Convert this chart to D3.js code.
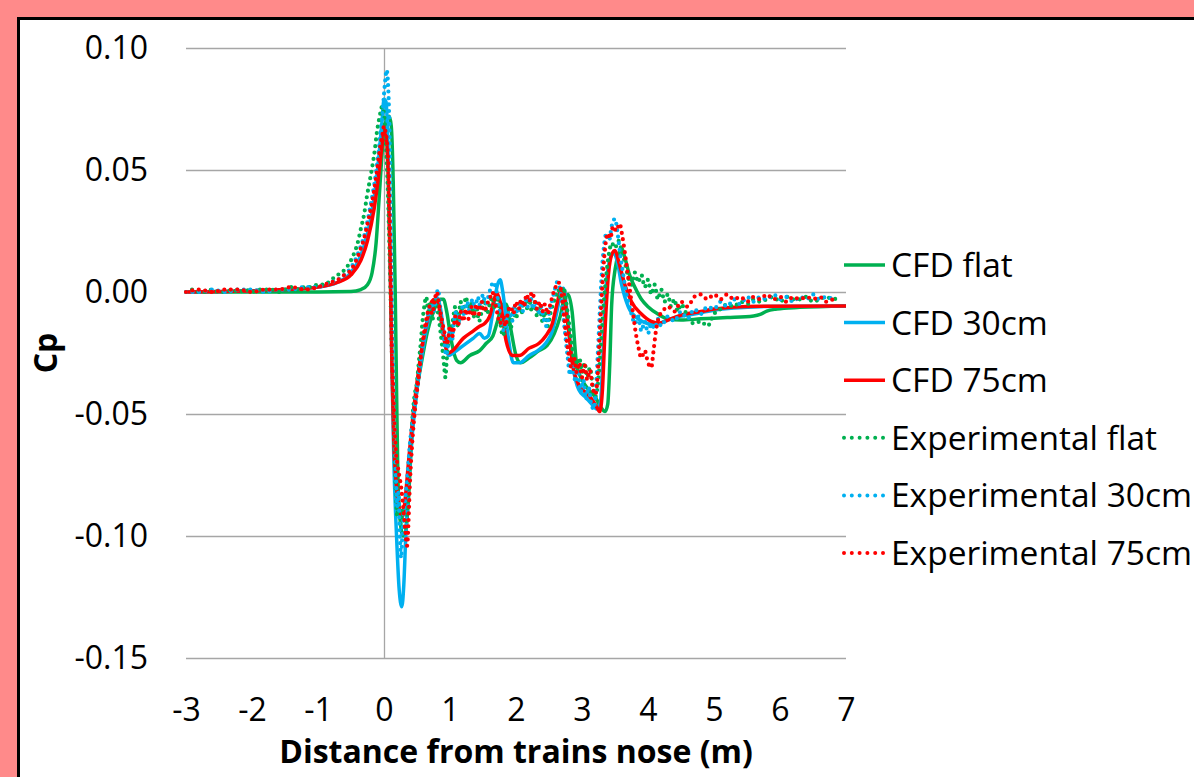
<!DOCTYPE html>
<html><head><meta charset="utf-8">
<script src="https://cdn.jsdelivr.net/npm/d3@7"></script>
<style>
html,body{margin:0;padding:0;background:#FF8A8A;}
svg{display:block;}
text{font-family:"Open Sans",sans-serif;}
</style></head>
<body>
<svg id="chart" width="1194" height="777"></svg>
<script>
// ---- data (x: distance from train nose in m, y: Cp) ----
const xTicks = [-3,-2,-1,0,1,2,3,4,5,6,7];
const yTicks = [0.10,0.05,0.00,-0.05,-0.10,-0.15];
const seriesNames = ["CFD flat","CFD 30cm","CFD 75cm","Experimental flat","Experimental 30cm","Experimental 75cm"];
const seriesColors = ["#00B050","#00B0F0","#FF0000","#00B050","#00B0F0","#FF0000"];

const cfdFlat = [[-3,0],[-1,0],[-0.5,0.0002],[-0.35,0.001],[-0.25,0.003],[-0.18,0.008],[-0.12,0.02],[-0.07,0.04],[-0.02,0.06],[0.03,0.07],[0.08,0.072],[0.11,0.068],[0.14,0.045],[0.17,0.0],[0.19,-0.04],[0.21,-0.075],[0.24,-0.092],[0.29,-0.1],[0.33,-0.098],[0.37,-0.085],[0.42,-0.06],[0.5,-0.04],[0.58,-0.027],[0.66,-0.016],[0.75,-0.008],[0.85,-0.003],[0.9,-0.003],[0.95,-0.008],[1.02,-0.02],[1.1,-0.028],[1.16,-0.029],[1.3,-0.026],[1.45,-0.024],[1.55,-0.021],[1.65,-0.018],[1.72,-0.012],[1.8,-0.005],[1.85,-0.005],[1.92,-0.015],[2.0,-0.026],[2.07,-0.029],[2.2,-0.027],[2.35,-0.024],[2.47,-0.022],[2.58,-0.017],[2.67,-0.01],[2.74,-0.002],[2.79,-0.001],[2.85,-0.008],[2.92,-0.03],[3.0,-0.036],[3.1,-0.04],[3.2,-0.043],[3.28,-0.047],[3.35,-0.049],[3.39,-0.046],[3.42,-0.03],[3.45,-0.005],[3.5,0.009],[3.56,0.016],[3.6,0.018],[3.65,0.014],[3.72,0.007],[3.8,0.002],[3.9,-0.003],[4.0,-0.006],[4.15,-0.009],[4.3,-0.011],[4.5,-0.0115],[4.8,-0.011],[5.2,-0.0105],[5.6,-0.0098],[5.7,-0.0092],[5.8,-0.0078],[5.95,-0.007],[6.3,-0.0063],[7.0,-0.0057]];

const cfd30 = [[-3,0],[-2,0.0005],[-1.5,0.001],[-1,0.002],[-0.7,0.004],[-0.5,0.008],[-0.35,0.015],[-0.25,0.024],[-0.15,0.038],[-0.08,0.055],[-0.03,0.07],[0.0,0.079],[0.03,0.078],[0.06,0.06],[0.09,0.02],[0.12,-0.03],[0.15,-0.07],[0.19,-0.1],[0.23,-0.122],[0.27,-0.129],[0.3,-0.12],[0.33,-0.1],[0.37,-0.08],[0.43,-0.058],[0.5,-0.04],[0.58,-0.025],[0.66,-0.013],[0.74,-0.005],[0.8,-0.002],[0.85,-0.006],[0.92,-0.019],[0.98,-0.026],[1.05,-0.025],[1.2,-0.022],[1.35,-0.019],[1.45,-0.017],[1.52,-0.019],[1.58,-0.018],[1.65,-0.008],[1.72,0.003],[1.76,0.005],[1.8,0.0],[1.88,-0.018],[1.96,-0.029],[2.05,-0.029],[2.2,-0.026],[2.33,-0.024],[2.45,-0.021],[2.55,-0.016],[2.62,-0.008],[2.68,0.0],[2.72,0.0015],[2.78,-0.01],[2.86,-0.03],[2.95,-0.04],[3.05,-0.043],[3.15,-0.046],[3.23,-0.048],[3.28,-0.045],[3.32,-0.025],[3.36,0.0],[3.42,0.013],[3.48,0.016],[3.53,0.013],[3.6,0.003],[3.7,-0.006],[3.85,-0.011],[4.0,-0.013],[4.1,-0.0135],[4.25,-0.012],[4.4,-0.0105],[4.7,-0.009],[5.0,-0.0075],[5.3,-0.0066],[5.7,-0.006],[7.0,-0.0057]];

const cfd75 = [[-3,0],[-2,0.0005],[-1.5,0.001],[-1,0.002],[-0.7,0.004],[-0.5,0.007],[-0.35,0.013],[-0.25,0.021],[-0.15,0.034],[-0.08,0.048],[-0.03,0.06],[0.0,0.065],[0.03,0.064],[0.06,0.05],[0.09,0.015],[0.12,-0.03],[0.15,-0.062],[0.19,-0.08],[0.24,-0.09],[0.28,-0.092],[0.32,-0.085],[0.37,-0.07],[0.43,-0.053],[0.5,-0.037],[0.58,-0.022],[0.66,-0.011],[0.72,-0.004],[0.77,-0.003],[0.83,-0.006],[0.9,-0.018],[0.97,-0.025],[1.04,-0.024],[1.2,-0.019],[1.35,-0.016],[1.45,-0.014],[1.52,-0.013],[1.6,-0.01],[1.67,-0.003],[1.71,-0.0005],[1.76,-0.004],[1.85,-0.02],[1.95,-0.026],[2.05,-0.026],[2.2,-0.023],[2.35,-0.021],[2.45,-0.018],[2.55,-0.013],[2.62,-0.005],[2.68,0.0005],[2.72,0.0],[2.78,-0.012],[2.86,-0.03],[2.95,-0.038],[3.05,-0.041],[3.15,-0.044],[3.22,-0.047],[3.27,-0.049],[3.31,-0.04],[3.35,-0.015],[3.4,0.007],[3.46,0.016],[3.5,0.017],[3.56,0.012],[3.65,0.003],[3.75,-0.004],[3.9,-0.009],[4.05,-0.012],[4.18,-0.0127],[4.3,-0.0115],[4.5,-0.0095],[4.8,-0.008],[5.0,-0.007],[5.3,-0.0062],[5.7,-0.0058],[7.0,-0.0057]];

const expFlat = [[-3.0,0.000],[-2.9,0.001],[-2.8,0.000],[-2.7,0.000],[-2.6,0.001],[-2.5,0.000],[-2.4,0.000],[-2.3,0.001],[-2.2,0.000],[-2.1,0.001],[-2.0,0.000],[-1.9,0.001],[-1.8,0.001],[-1.7,0.001],[-1.6,0.000],[-1.5,0.001],[-1.4,0.002],[-1.3,0.001],[-1.2,0.002],[-1.1,0.002],[-1.0,0.003],[-0.9,0.003],[-0.8,0.005],[-0.7,0.007],[-0.6,0.009],[-0.5,0.013],[-0.45,0.016],[-0.4,0.020],[-0.35,0.026],[-0.3,0.032],[-0.26,0.039],[-0.22,0.045],[-0.18,0.051],[-0.14,0.058],[-0.11,0.065],[-0.08,0.070],[-0.05,0.074],[-0.03,0.076],[0.0,0.073],[0.03,0.06],[0.06,0.04],[0.09,0.01],[0.12,-0.025],[0.14,-0.045],[0.16,-0.065],[0.18,-0.082],[0.2,-0.092],[0.22,-0.086],[0.25,-0.095],[0.28,-0.089],[0.31,-0.099],[0.34,-0.094],[0.37,-0.082],[0.4,-0.065],[0.43,-0.052],[0.46,-0.043],[0.5,-0.037],[0.53,-0.028],[0.56,-0.02],[0.58,-0.013],[0.61,-0.006],[0.64,-0.002],[0.67,-0.008],[0.7,-0.004],[0.73,-0.012],[0.76,-0.006],[0.79,-0.003],[0.82,-0.009],[0.85,-0.015],[0.88,-0.022],[0.91,-0.03],[0.93,-0.035],[0.95,-0.028],[0.98,-0.02],[1.01,-0.016],[1.04,-0.012],[1.08,-0.006],[1.12,-0.014],[1.16,-0.004],[1.2,-0.009],[1.24,-0.002],[1.28,-0.007],[1.32,-0.004],[1.36,-0.01],[1.4,-0.006],[1.44,-0.012],[1.48,-0.008],[1.52,-0.003],[1.56,-0.009],[1.6,-0.005],[1.64,-0.002],[1.68,-0.007],[1.72,-0.003],[1.76,-0.012],[1.8,-0.018],[1.84,-0.014],[1.88,-0.01],[1.92,-0.015],[1.96,-0.008],[2.0,-0.011],[2.04,-0.006],[2.08,-0.009],[2.12,-0.004],[2.16,-0.007],[2.2,-0.003],[2.24,-0.008],[2.28,-0.004],[2.32,-0.01],[2.36,-0.006],[2.4,-0.012],[2.44,-0.008],[2.48,-0.014],[2.52,-0.009],[2.56,-0.005],[2.6,-0.002],[2.64,0.001],[2.68,-0.003],[2.72,0.002],[2.76,-0.004],[2.8,-0.012],[2.84,-0.02],[2.88,-0.028],[2.92,-0.031],[2.96,-0.027],[3.0,-0.033],[3.04,-0.029],[3.08,-0.035],[3.12,-0.031],[3.16,-0.038],[3.2,-0.043],[3.23,-0.04],[3.26,-0.032],[3.29,-0.02],[3.32,-0.008],[3.35,0.002],[3.38,0.01],[3.41,0.016],[3.45,0.02],[3.5,0.018],[3.55,0.021],[3.6,0.017],[3.65,0.012],[3.7,0.006],[3.75,0.003],[3.8,0.008],[3.85,0.004],[3.9,0.007],[3.95,0.002],[4.0,0.005],[4.05,-0.001],[4.1,0.003],[4.15,-0.003],[4.2,0.001],[4.25,-0.004],[4.3,-0.001],[4.35,-0.006],[4.4,-0.003],[4.45,-0.008],[4.5,-0.005],[4.6,-0.01],[4.7,-0.013],[4.8,-0.012],[4.9,-0.014],[5.0,-0.009],[5.1,-0.007],[5.2,-0.005],[5.3,-0.006],[5.4,-0.004],[5.5,-0.005],[5.6,-0.003],[5.7,-0.004],[5.8,-0.003],[5.9,-0.002],[6.0,-0.004],[6.1,-0.002],[6.2,-0.003],[6.3,-0.003],[6.4,-0.002],[6.5,-0.004],[6.6,-0.003],[6.7,-0.002],[6.8,-0.003],[6.9,-0.002]];

const exp30 = [[-3.0,0.000],[-2.8,0.000],[-2.6,0.001],[-2.4,0.000],[-2.2,0.001],[-2.0,0.001],[-1.8,0.000],[-1.6,0.001],[-1.4,0.001],[-1.2,0.002],[-1.0,0.002],[-0.9,0.003],[-0.8,0.004],[-0.7,0.005],[-0.6,0.007],[-0.5,0.010],[-0.42,0.014],[-0.35,0.019],[-0.3,0.023],[-0.25,0.029],[-0.2,0.036],[-0.16,0.042],[-0.12,0.049],[-0.08,0.058],[-0.05,0.066],[-0.02,0.074],[0.0,0.081],[0.02,0.087],[0.04,0.091],[0.06,0.086],[0.08,0.07],[0.1,0.04],[0.12,0.0],[0.14,-0.03],[0.16,-0.055],[0.18,-0.075],[0.2,-0.088],[0.22,-0.082],[0.24,-0.1],[0.26,-0.109],[0.28,-0.098],[0.31,-0.088],[0.34,-0.08],[0.37,-0.07],[0.4,-0.06],[0.44,-0.052],[0.47,-0.045],[0.51,-0.037],[0.55,-0.029],[0.59,-0.021],[0.63,-0.014],[0.67,-0.009],[0.71,-0.005],[0.75,-0.008],[0.79,-0.002],[0.82,0.001],[0.85,-0.006],[0.88,-0.013],[0.91,-0.019],[0.94,-0.026],[0.97,-0.022],[1.0,-0.015],[1.03,-0.02],[1.06,-0.012],[1.1,-0.008],[1.14,-0.013],[1.18,-0.006],[1.22,-0.01],[1.26,-0.004],[1.3,-0.008],[1.34,-0.003],[1.38,-0.007],[1.42,-0.002],[1.46,-0.006],[1.5,-0.001],[1.54,-0.005],[1.58,-0.002],[1.62,0.002],[1.66,0.004],[1.7,0.001],[1.74,-0.006],[1.78,-0.012],[1.82,-0.016],[1.86,-0.011],[1.9,-0.008],[1.94,-0.012],[1.98,-0.006],[2.02,-0.009],[2.06,-0.004],[2.1,-0.008],[2.14,-0.003],[2.18,-0.006],[2.22,-0.002],[2.26,-0.007],[2.3,-0.004],[2.34,-0.009],[2.38,-0.006],[2.42,-0.011],[2.46,-0.014],[2.5,-0.009],[2.54,-0.004],[2.58,0.0],[2.62,0.004],[2.66,0.002],[2.7,-0.006],[2.74,-0.016],[2.78,-0.026],[2.82,-0.034],[2.86,-0.029],[2.9,-0.037],[2.94,-0.032],[2.98,-0.041],[3.02,-0.036],[3.06,-0.044],[3.1,-0.039],[3.14,-0.046],[3.18,-0.048],[3.21,-0.04],[3.24,-0.025],[3.27,-0.008],[3.3,0.008],[3.33,0.018],[3.37,0.024],[3.41,0.021],[3.45,0.027],[3.5,0.03],[3.54,0.024],[3.58,0.015],[3.62,0.008],[3.66,0.001],[3.7,-0.004],[3.75,-0.009],[3.8,-0.013],[3.85,-0.01],[3.9,-0.016],[3.95,-0.012],[4.0,-0.017],[4.05,-0.013],[4.1,-0.015],[4.15,-0.011],[4.2,-0.014],[4.3,-0.01],[4.4,-0.012],[4.5,-0.008],[4.6,-0.011],[4.7,-0.007],[4.8,-0.009],[4.9,-0.006],[5.0,-0.007],[5.1,-0.004],[5.2,-0.006],[5.3,-0.003],[5.4,-0.005],[5.5,-0.002],[5.6,-0.004],[5.7,-0.002],[5.8,-0.003],[5.9,-0.001],[6.0,-0.003],[6.1,-0.002],[6.2,-0.004],[6.3,-0.002],[6.4,-0.003],[6.5,-0.001],[6.6,-0.003],[6.7,-0.002],[6.8,-0.003]];

const exp75 = [[-3.0,0.0],[-2.8,0.001],[-2.6,0.0],[-2.4,0.001],[-2.2,0.001],[-2.0,0.0],[-1.8,0.001],[-1.6,0.001],[-1.4,0.002],[-1.2,0.001],[-1.0,0.002],[-0.9,0.003],[-0.8,0.004],[-0.7,0.005],[-0.6,0.007],[-0.5,0.009],[-0.42,0.013],[-0.35,0.018],[-0.3,0.022],[-0.25,0.028],[-0.2,0.034],[-0.16,0.04],[-0.12,0.047],[-0.08,0.055],[-0.05,0.061],[-0.02,0.065],[0.0,0.068],[0.02,0.066],[0.05,0.06],[0.08,0.04],[0.1,0.01],[0.12,-0.025],[0.14,-0.04],[0.16,-0.055],[0.18,-0.066],[0.2,-0.07],[0.23,-0.075],[0.26,-0.08],[0.29,-0.088],[0.32,-0.097],[0.35,-0.104],[0.37,-0.095],[0.39,-0.08],[0.42,-0.065],[0.45,-0.054],[0.49,-0.043],[0.53,-0.034],[0.57,-0.024],[0.61,-0.016],[0.65,-0.01],[0.69,-0.006],[0.73,-0.009],[0.77,-0.003],[0.8,0.0],[0.84,-0.006],[0.88,-0.012],[0.92,-0.017],[0.96,-0.021],[1.0,-0.014],[1.04,-0.018],[1.08,-0.01],[1.12,-0.014],[1.16,-0.008],[1.2,-0.012],[1.24,-0.007],[1.28,-0.011],[1.32,-0.006],[1.36,-0.01],[1.4,-0.005],[1.44,-0.009],[1.48,-0.004],[1.52,-0.008],[1.56,-0.005],[1.6,-0.003],[1.64,0.0],[1.68,-0.004],[1.72,-0.009],[1.76,-0.013],[1.8,-0.009],[1.84,-0.014],[1.88,-0.008],[1.92,-0.006],[1.96,-0.009],[2.0,-0.004],[2.04,-0.007],[2.08,-0.003],[2.12,-0.006],[2.16,-0.001],[2.2,-0.004],[2.24,0.0],[2.28,-0.003],[2.32,-0.007],[2.36,-0.004],[2.4,-0.008],[2.44,-0.005],[2.48,-0.009],[2.52,-0.005],[2.56,-0.001],[2.6,0.002],[2.64,0.004],[2.68,0.001],[2.72,-0.008],[2.76,-0.018],[2.8,-0.026],[2.84,-0.031],[2.88,-0.027],[2.92,-0.033],[2.96,-0.029],[3.0,-0.035],[3.04,-0.03],[3.08,-0.036],[3.12,-0.032],[3.16,-0.039],[3.2,-0.042],[3.23,-0.037],[3.26,-0.022],[3.29,-0.006],[3.32,0.008],[3.35,0.018],[3.39,0.024],[3.43,0.022],[3.47,0.027],[3.52,0.025],[3.57,0.028],[3.61,0.023],[3.65,0.016],[3.69,0.008],[3.73,0.0],[3.77,-0.008],[3.81,-0.016],[3.85,-0.022],[3.9,-0.027],[3.95,-0.024],[4.0,-0.029],[4.05,-0.031],[4.08,-0.025],[4.12,-0.016],[4.17,-0.01],[4.22,-0.008],[4.3,-0.006],[4.4,-0.008],[4.5,-0.004],[4.6,-0.006],[4.7,-0.002],[4.8,-0.001],[4.9,-0.003],[5.0,-0.001],[5.1,-0.003],[5.2,-0.001],[5.3,-0.003],[5.4,-0.002],[5.5,-0.004],[5.6,-0.002],[5.7,-0.003],[5.8,-0.001],[5.9,-0.003],[6.0,-0.002],[6.1,-0.004],[6.2,-0.002],[6.3,-0.003],[6.4,-0.002],[6.5,-0.003],[6.6,-0.002],[6.7,-0.004],[6.8,-0.003]];

const seriesData = [cfdFlat, cfd30, cfd75, expFlat, exp30, exp75];
const seriesDashed = [false,false,false,true,true,true];

// ---- drawing ----
const svg = d3.select("#chart");
const FONT = 32;
const LEGEND_FONT = 33.5;

svg.append("rect").attr("x",18.5).attr("y",18.5).attr("width",1300).attr("height",900)
  .attr("fill","#fff").attr("stroke","#000").attr("stroke-width",3);

const x = d3.scaleLinear().domain([-3,7]).range([186,846]);
const y = d3.scaleLinear().domain([-0.15,0.10]).range([658,48]);

// gridlines
svg.append("g").selectAll("line").data(yTicks).join("line")
  .attr("x1",x(-3)).attr("x2",x(7))
  .attr("y1",d=>Math.round(y(d))+0.5).attr("y2",d=>Math.round(y(d))+0.5)
  .attr("stroke","#A6A6A6").attr("stroke-width",1.3);
svg.append("line").attr("x1",Math.round(x(0))+0.5).attr("x2",Math.round(x(0))+0.5)
  .attr("y1",y(0.10)).attr("y2",y(-0.15)).attr("stroke","#A6A6A6").attr("stroke-width",1.3);

// axes (labels only)
const yAxis = d3.axisLeft(y).tickValues(yTicks).tickSize(0).tickPadding(38).tickFormat(d=>d.toFixed(2));
const gy = svg.append("g").attr("transform",`translate(${x(-3)},0)`).call(yAxis);
const xAxis = d3.axisBottom(x).tickValues(xTicks).tickSize(0).tickPadding(40).tickFormat(d=>String(d));
const gx = svg.append("g").attr("transform",`translate(0,${y(-0.15)})`).call(xAxis);
[gx,gy].forEach(g=>{
  g.select(".domain").remove();
  g.selectAll("text").attr("font-family","'Open Sans',sans-serif").attr("font-size",FONT).attr("fill","#000");
});

// titles
svg.append("text").attr("x",516).attr("y",763).attr("text-anchor","middle")
  .attr("font-size",FONT).attr("font-weight","bold").text("Distance from trains nose (m)");
svg.append("text").attr("transform","translate(57,353) rotate(-90)").attr("text-anchor","middle")
  .attr("font-size",FONT).attr("font-weight","bold").text("Cp");

// series
const line = d3.line().x(d=>x(d[0])).y(d=>y(d[1])).curve(d3.curveMonotoneX);
const gs = svg.append("g");
seriesData.forEach((data,i)=>{
  const p = gs.append("path").datum(data).attr("d",line).attr("fill","none")
    .attr("stroke",seriesColors[i]);
  if(seriesDashed[i]){
    p.attr("stroke-width",4.2).attr("stroke-linecap","round").attr("stroke-dasharray","0 6.5");
  } else {
    p.attr("stroke-width",3.5).attr("stroke-linejoin","round");
  }
});

// legend
const lg = svg.append("g");
seriesNames.forEach((name,i)=>{
  const cy = 265 + i*57.6;
  const l = lg.append("line").attr("x1",844).attr("x2",885).attr("y1",cy).attr("y2",cy)
    .attr("stroke",seriesColors[i]);
  if(seriesDashed[i]) l.attr("stroke-width",4).attr("stroke-linecap","round").attr("stroke-dasharray","0 7.8");
  else l.attr("stroke-width",3.5);
  lg.append("text").attr("x",891).attr("y",cy).attr("dy","0.36em")
    .attr("font-size",LEGEND_FONT).attr("fill","#000").text(name);
});
</script>
</body></html>
